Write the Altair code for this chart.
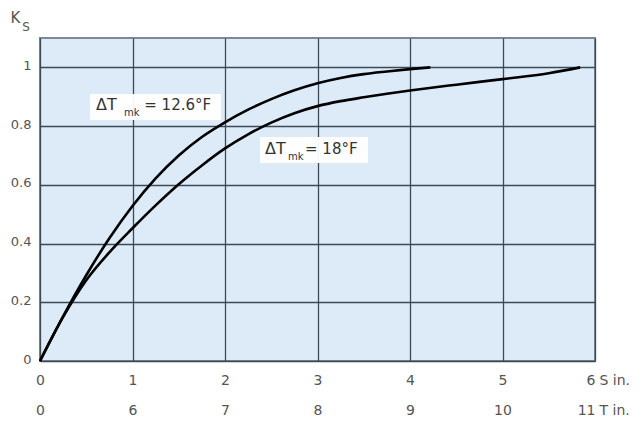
import altair as alt
import pandas as pd

# ---- data ----
s_126 = [0, 0.25, 0.5, 0.75, 1.0, 1.25, 1.5, 1.75, 2.0, 2.25, 2.5, 2.75, 3.0,
         3.25, 3.5, 3.75, 4.0, 4.22]
k_126 = [0, 0.152, 0.292, 0.418, 0.528, 0.622, 0.700, 0.763, 0.813, 0.856, 0.892,
         0.922, 0.946, 0.964, 0.977, 0.986, 0.994, 1.0]

s_18 = [0, 0.25, 0.5, 0.75, 1.0, 1.25, 1.5, 1.75, 2.0, 2.25, 2.5, 2.75, 3.0,
        3.25, 3.5, 3.75, 4.0, 4.5, 5.0, 5.5, 5.84]
k_18 = [0, 0.15, 0.275, 0.37, 0.452, 0.530, 0.602, 0.666, 0.724, 0.772, 0.812,
        0.844, 0.868, 0.885, 0.898, 0.910, 0.921, 0.941, 0.960, 0.980, 1.0]

s_ticks = [0, 1, 2, 3, 4, 5, 6]
t_labels = ["0", "6", "7", "8", "9", "10", "11"]
k_ticks = [0, 0.2, 0.4, 0.6, 0.8, 1.0]

label_main = ["\u0394T", "\u0394T"]
label_sub = ["mk", "mk"]
label_rest = ["= 12.6\u00b0F", "= 18\u00b0F"]

curves = pd.DataFrame(
    {"s": s_126 + s_18,
     "k": k_126 + k_18,
     "series": ["12.6"] * len(s_126) + ["18"] * len(s_18)}
)

# annotation boxes (data coordinates)
boxes = pd.DataFrame({
    "s": [0.54, 2.378], "s2": [1.957, 3.546],
    "k": [0.909, 0.763], "k2": [0.821, 0.674],
})
texts = pd.DataFrame({
    "s": [0.605, 0.908, 1.127, 2.432, 2.681, 2.865],
    "k": [0.873, 0.845, 0.873, 0.722, 0.694, 0.722],
    "text": [label_main[0], label_sub[0], label_rest[0],
             label_main[1], label_sub[1], label_rest[1]],
    "size": [16, 10, 15, 16, 10, 15],
})
ktitle = pd.DataFrame({
    "s": [-0.265, -0.151], "k": [1.168, 1.138], "text": ["K", "S"], "size": [15, 12],
})

FONT = "DejaVu Sans"
GRAY = "#555555"
xscale = alt.Scale(domain=[0, 6], nice=False)
yscale = alt.Scale(domain=[0, 1.1], nice=False)

t_arr = "[" + ",".join("'%s'" % t for t in t_labels) + "]"

x_axis = alt.Axis(
    values=s_ticks, grid=True, gridColor="#3b4a55", gridWidth=1.3,
    domain=False, ticks=False, labelPadding=12, labelFlush=False,
    labelAlign=alt.ConditionalAxisLabelAlign(
        condition={"test": "datum.value == 6", "value": "right"}, value="center"
    ),
    labelExpr="[format(datum.value, 'd'), " + t_arr + "[datum.value]]",
    labelLineHeight=30, labelFontSize=14, labelColor=GRAY, labelFont=FONT,
    title=["S in.", "T in."], titleX=559, titleY=12, titleAlign="left",
    titleBaseline="top", titleAngle=0, titleLineHeight=30,
    titleFontSize=14, titleFontWeight="normal", titleColor=GRAY, titleFont=FONT,
)
y_axis = alt.Axis(
    values=k_ticks, grid=True, gridColor="#3b4a55", gridWidth=1.3,
    domain=False, ticks=False, labelPadding=9, format="~g", labelOffset=-2,
    labelFontSize=13, labelColor=GRAY, labelFont=FONT, title=None,
)

lines = alt.Chart(curves).mark_line(
    color="black", strokeWidth=2.6, interpolate="monotone"
).encode(
    x=alt.X("s:Q", scale=xscale, axis=x_axis),
    y=alt.Y("k:Q", scale=yscale, axis=y_axis),
    detail="series:N",
)

rects = alt.Chart(boxes).mark_rect(fill="white", opacity=0.95).encode(
    x="s:Q", x2="s2:Q", y="k:Q", y2="k2:Q",
)

ann = alt.Chart(texts).mark_text(
    align="left", baseline="middle", font=FONT, color="#333333"
).encode(
    x="s:Q", y="k:Q",
    text="text:N", size=alt.Size("size:Q", scale=None, legend=None),
)

kt = alt.Chart(ktitle).mark_text(
    align="center", baseline="middle", font=FONT, color=GRAY
).encode(
    x="s:Q", y="k:Q",
    text="text:N", size=alt.Size("size:Q", scale=None, legend=None),
)

chart = alt.layer(lines, rects, ann, kt).properties(
    width=555, height=323,
    autosize=alt.AutoSizeParams(type="none"),
    padding={"left": 32, "top": 30, "right": 40, "bottom": 60},
).configure_view(
    fill="#dcebf7", stroke="#7d8a93", strokeWidth=2,
)

chart.save("out.html", embed_options={"renderer": "svg", "actions": False})
